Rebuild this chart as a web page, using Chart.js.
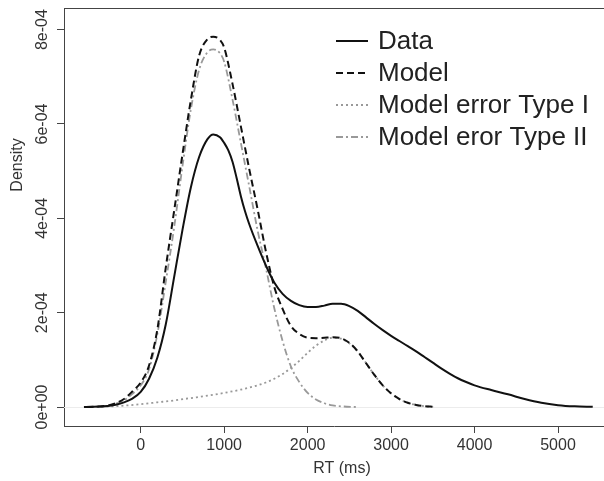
<!DOCTYPE html>
<html>
<head>
<meta charset="utf-8">
<title>RT density</title>
<script src="https://cdn.jsdelivr.net/npm/chart.js@4.4.1/dist/chart.umd.min.js"></script>
<style>
  html, body { margin: 0; padding: 0; background: #ffffff; overflow: hidden; }
  #wrap { width: 604px; height: 481px; }
  canvas { display: block; }
</style>
</head>
<body>
<div id="wrap"><canvas id="chart" width="604" height="481"></canvas></div>
<script>
// Response-time densities: observed data, fitted model and its two components.
const rtData   = [-680, -600, -500, -400, -300, -200, -100, 0, 100, 200, 300, 400, 500, 600, 700, 800, 870, 950, 1000, 1050, 1100, 1150, 1200, 1250, 1300, 1400, 1500, 1600, 1700, 1800, 1900, 2000, 2100, 2200, 2300, 2400, 2500, 2600, 2700, 2800, 2900, 3000, 3100, 3200, 3300, 3400, 3500, 3600, 3700, 3800, 3900, 4000, 4200, 4400, 4600, 4800, 5000, 5200, 5416];
const densData = [0, 0.005e-4, 0.01e-4, 0.02e-4, 0.05e-4, 0.1e-4, 0.18e-4, 0.32e-4, 0.6e-4, 1.05e-4, 1.75e-4, 2.75e-4, 3.75e-4, 4.65e-4, 5.3e-4, 5.68e-4, 5.78e-4, 5.72e-4, 5.6e-4, 5.44e-4, 5.2e-4, 4.85e-4, 4.47e-4, 4.15e-4, 3.88e-4, 3.42e-4, 3.0e-4, 2.64e-4, 2.4e-4, 2.25e-4, 2.16e-4, 2.12e-4, 2.12e-4, 2.15e-4, 2.19e-4, 2.19e-4, 2.14e-4, 2.04e-4, 1.9e-4, 1.76e-4, 1.63e-4, 1.51e-4, 1.4e-4, 1.29e-4, 1.18e-4, 1.06e-4, 0.94e-4, 0.82e-4, 0.71e-4, 0.61e-4, 0.53e-4, 0.46e-4, 0.36e-4, 0.27e-4, 0.17e-4, 0.09e-4, 0.04e-4, 0.015e-4, 0.005e-4];

const rtModel   = [-650, -500, -400, -300, -200, -100, 0, 100, 200, 300, 400, 500, 600, 700, 800, 870, 950, 1000, 1100, 1200, 1300, 1400, 1500, 1600, 1700, 1800, 1900, 2000, 2100, 2200, 2300, 2400, 2500, 2600, 2700, 2800, 2900, 3000, 3100, 3200, 3300, 3400, 3504];
const densModel = [0, 0.01e-4, 0.03e-4, 0.08e-4, 0.17e-4, 0.33e-4, 0.52e-4, 0.88e-4, 1.65e-4, 2.95e-4, 4.15e-4, 5.35e-4, 6.5e-4, 7.45e-4, 7.8e-4, 7.85e-4, 7.78e-4, 7.62e-4, 6.85e-4, 5.95e-4, 5.05e-4, 4.2e-4, 3.3e-4, 2.55e-4, 2.08e-4, 1.72e-4, 1.55e-4, 1.47e-4, 1.46e-4, 1.47e-4, 1.48e-4, 1.46e-4, 1.36e-4, 1.18e-4, 0.93e-4, 0.68e-4, 0.46e-4, 0.29e-4, 0.17e-4, 0.09e-4, 0.045e-4, 0.02e-4, 0.005e-4];

const rtType1   = [-650, -400, -200, 0, 200, 400, 600, 800, 1000, 1200, 1400, 1500, 1600, 1700, 1800, 1900, 2000, 2100, 2200, 2300, 2400, 2500, 2600, 2700, 2800, 2900, 3000, 3100, 3200, 3300, 3400, 3504];
const densType1 = [0, 0.01e-4, 0.03e-4, 0.06e-4, 0.1e-4, 0.14e-4, 0.19e-4, 0.24e-4, 0.3e-4, 0.37e-4, 0.46e-4, 0.52e-4, 0.6e-4, 0.7e-4, 0.83e-4, 0.98e-4, 1.15e-4, 1.3e-4, 1.41e-4, 1.47e-4, 1.45e-4, 1.35e-4, 1.18e-4, 0.93e-4, 0.68e-4, 0.46e-4, 0.29e-4, 0.17e-4, 0.09e-4, 0.045e-4, 0.02e-4, 0.005e-4];

const rtType2   = [-650, -500, -400, -300, -200, -100, 0, 100, 200, 300, 400, 500, 600, 700, 800, 870, 950, 1000, 1100, 1200, 1300, 1400, 1500, 1600, 1700, 1800, 1900, 2000, 2100, 2200, 2300, 2400, 2584];
const densType2 = [0, 0.01e-4, 0.02e-4, 0.07e-4, 0.14e-4, 0.28e-4, 0.46e-4, 0.8e-4, 1.55e-4, 2.65e-4, 3.8e-4, 5.1e-4, 6.3e-4, 7.15e-4, 7.52e-4, 7.58e-4, 7.5e-4, 7.32e-4, 6.52e-4, 5.6e-4, 4.68e-4, 3.75e-4, 2.95e-4, 2.1e-4, 1.4e-4, 0.86e-4, 0.53e-4, 0.3e-4, 0.16e-4, 0.08e-4, 0.035e-4, 0.015e-4, 0];

const seriesNames = ['Data', 'Model', 'Model error Type I', 'Model eror Type II'];

// Axis ticks and their printed labels
const xTicks = [0, 1000, 2000, 3000, 4000, 5000];
const yTicks = [0, 2e-4, 4e-4, 6e-4, 8e-4];
const yTickLabels = ['0e+00', '2e-04', '4e-04', '6e-04', '8e-04'];
const xTitle = 'RT (ms)';
const yTitle = 'Density';

const FONT = '"Liberation Sans", Arial, Helvetica, sans-serif';
const GRAY = '#999999';
const AXIS = '#444444';

function points(xs, ys) {
  return xs.map((x, i) => ({ x: x, y: ys[i] }));
}

function lineSet(label, xs, ys, color, width, dash) {
  return {
    label: label,
    data: points(xs, ys),
    showLine: true,
    borderColor: color,
    backgroundColor: color,
    borderWidth: width,
    borderDash: dash,
    pointRadius: 0,
    pointHoverRadius: 0,
    fill: false,
    cubicInterpolationMode: 'monotone'
  };
}

const datasets = [
  lineSet(seriesNames[0], rtData, densData, '#111111', 2, []),
  lineSet(seriesNames[1], rtModel, densModel, '#111111', 2, [7, 4]),
  lineSet(seriesNames[2], rtType1, densType1, GRAY, 1.8, [2, 3]),
  lineSet(seriesNames[3], rtType2, densType2, GRAY, 1.8, [7, 3, 2, 3])
];

// Box top, faint zero line, axis titles and the legend block
const decorations = {
  id: 'decorations',
  beforeDatasetsDraw(chart) {
    const { ctx, chartArea } = chart;
    const y0 = chart.scales.y.getPixelForValue(0);
    ctx.save();
    ctx.strokeStyle = '#ececec';
    ctx.lineWidth = 1;
    ctx.beginPath();
    ctx.moveTo(chartArea.left, Math.round(y0) + 0.5);
    ctx.lineTo(chartArea.right, Math.round(y0) + 0.5);
    ctx.stroke();
    ctx.restore();
  },
  afterDraw(chart) {
    const { ctx, chartArea } = chart;
    ctx.save();
    // top edge of the plot box
    ctx.strokeStyle = AXIS;
    ctx.lineWidth = 1;
    ctx.beginPath();
    ctx.moveTo(chartArea.left, chartArea.top + 0.5);
    ctx.lineTo(chartArea.right, chartArea.top + 0.5);
    ctx.stroke();

    // axis titles
    ctx.fillStyle = '#333333';
    ctx.font = '16px ' + FONT;
    ctx.textAlign = 'center';
    ctx.textBaseline = 'middle';
    ctx.fillText(xTitle, 342, 469);
    ctx.save();
    ctx.translate(17.5, 165);
    ctx.rotate(-Math.PI / 2);
    ctx.fillText(yTitle, 0, 0);
    ctx.restore();

    // legend
    const x1 = 336, x2 = 368, tx = 378, top = 41, step = 32;
    ctx.font = '26px ' + FONT;
    ctx.textAlign = 'left';
    chart.data.datasets.forEach((ds, i) => {
      const y = top + i * step;
      ctx.strokeStyle = ds.borderColor;
      ctx.lineWidth = ds.borderWidth;
      ctx.setLineDash(ds.borderDash);
      ctx.beginPath();
      ctx.moveTo(x1, y);
      ctx.lineTo(x2, y);
      ctx.stroke();
      ctx.setLineDash([]);
      ctx.fillStyle = '#222222';
      ctx.fillText(ds.label, tx, y + 1);
    });
    ctx.restore();
  }
};

new Chart(document.getElementById('chart'), {
  type: 'scatter',
  data: { datasets: datasets },
  plugins: [decorations],
  options: {
    responsive: false,
    animation: false,
    devicePixelRatio: 1,
    layout: { padding: { top: 8, right: 0, bottom: 0, left: 0 } },
    plugins: {
      legend: { display: false },
      tooltip: { enabled: false }
    },
    scales: {
      x: {
        type: 'linear',
        position: 'bottom',
        min: -919,
        max: 5551,
        afterBuildTicks: (scale) => { scale.ticks = xTicks.map(v => ({ value: v })); },
        afterFit: (scale) => { scale.height = 55; },
        border: { display: true, color: AXIS, width: 1 },
        grid: { drawOnChartArea: false, drawTicks: true, tickLength: 7, tickColor: AXIS, tickWidth: 1 },
        ticks: {
          color: '#333333',
          font: { family: FONT, size: 16 },
          padding: 3,
          maxRotation: 0,
          autoSkip: false,
          callback: (v) => String(v)
        }
      },
      y: {
        type: 'linear',
        position: 'left',
        min: -0.402e-4,
        max: 8.459e-4,
        afterBuildTicks: (scale) => { scale.ticks = yTicks.map(v => ({ value: v })); },
        afterFit: (scale) => { scale.width = 64; },
        border: { display: true, color: AXIS, width: 1 },
        grid: { drawOnChartArea: false, drawTicks: true, tickLength: 7, tickColor: AXIS, tickWidth: 1 },
        ticks: {
          color: '#333333',
          font: { family: FONT, size: 16 },
          minRotation: 90,
          maxRotation: 90,
          crossAlign: 'center',
          padding: -8,
          autoSkip: false,
          callback: (v, i) => yTickLabels[i]
        }
      }
    }
  }
});
</script>
</body>
</html>
